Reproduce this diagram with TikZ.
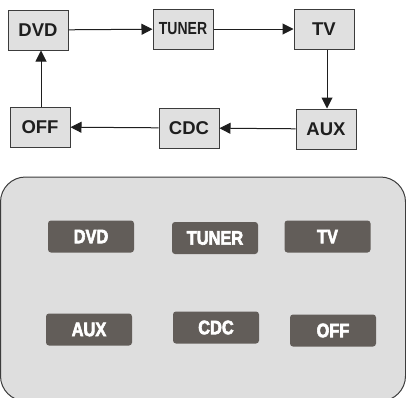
\documentclass[tikz,border=0pt]{standalone}
\usepackage{fontspec}
\setmainfont{Liberation Sans}
\newfontfamily\condfont[FakeStretch=0.84,FakeBold=3]{Liberation Sans}
\newfontfamily\narrowfont[FakeStretch=0.8]{Liberation Sans}
\usetikzlibrary{arrows.meta}
\definecolor{boxfill}{RGB}{224,224,224}
\definecolor{boxline}{RGB}{60,60,60}
\definecolor{panelfill}{RGB}{222,222,222}
\definecolor{btnfill}{RGB}{98,93,89}
\definecolor{txtdark}{RGB}{30,30,30}
\tikzset{
  modebox/.style={draw=boxline, fill=boxfill, line width=1pt, minimum width=60pt,
    minimum height=40pt, inner sep=0pt, text=txtdark,
    font=\bfseries\fontsize{18.5}{18.5}\selectfont},
  flow/.style={draw=txtdark, line width=1pt, -{Triangle[length=11pt,width=11pt]}},
  btn/.style={fill=btnfill, rounded corners=3pt, minimum width=86pt, minimum height=32pt,
    inner sep=0pt, text=white, font=\condfont\bfseries\fontsize{19.5}{19.5}\selectfont},
}
\begin{document}
\begin{tikzpicture}[x=1pt,y=-1pt]
\useasboundingbox (0,0) rectangle (406,397);
% top flow
\node[modebox] (dvd) at (38,30) {DVD};
\node[modebox, font=\narrowfont\bfseries\fontsize{17.5}{17.5}\selectfont] (tuner) at (183,29) {TUNER};
\node[modebox] (tv) at (324,29) {TV};
\node[modebox] (aux) at (326,129) {AUX};
\node[modebox] (cdc) at (189,128) {CDC};
\node[modebox] (off) at (40,127) {OFF};
\draw[flow] (dvd) -- (tuner);
\draw[flow] (tuner) -- (tv);
\draw[flow] (tv.south -| 327,0) -- (aux.north -| 327,0);
\draw[flow] (aux) -- (cdc);
\draw[flow] (cdc) -- (off);
\draw[flow] (off.north -| 41,0) -- (dvd.south -| 41,0);
% panel
\draw[fill=panelfill, draw=boxline, line width=1pt, rounded corners=25pt] (0.5,177) rectangle (405.5,401);
\node[btn] (bdvd) at (91,236.5) {DVD};
\node[btn] (btuner) at (215,238) {TUNER};
\node[btn] (btv) at (327.5,236.5) {TV};
\node[btn] (baux) at (89,329.5) {AUX};
\node[btn] (bcdc) at (216,327.5) {CDC};
\node[btn] (boff) at (333,330.5) {OFF};
\end{tikzpicture}
\end{document}
